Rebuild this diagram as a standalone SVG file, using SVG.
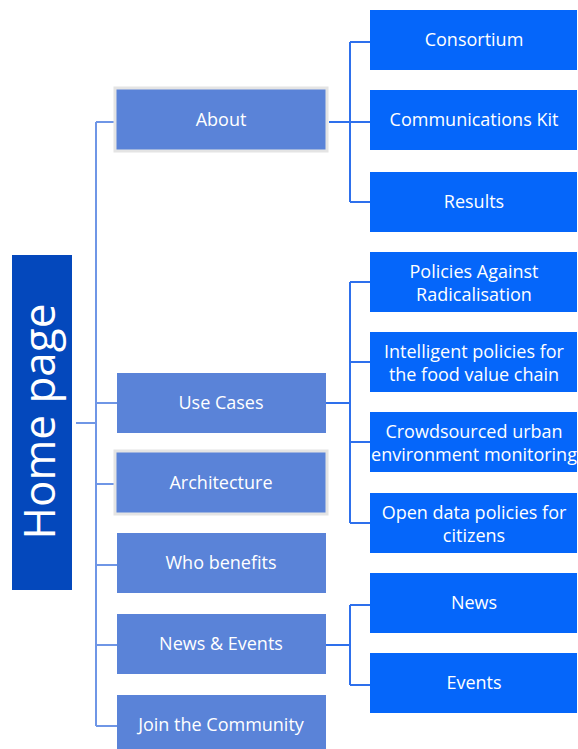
<svg xmlns="http://www.w3.org/2000/svg" width="578" height="749" viewBox="0 0 578 749">
<style>
.home{fill:#0448BC}
.sec{fill:#5A83D8}
.sel{stroke:#E4E4E4;stroke-width:3}
.sub{fill:#0566FA}
.t{font-family:"Open Sans","Noto Sans",sans-serif;font-size:18px;fill:#FFFFFF;text-anchor:middle}
.big{font-family:"Open Sans","Noto Sans",sans-serif;font-size:44px;fill:#FFFFFF;text-anchor:middle}
.c1{stroke:#6F96E6;stroke-width:2;fill:none}
.c2{stroke:#2E70EC;stroke-width:2;fill:none}
</style>
<rect width="578" height="749" fill="#FFFFFF"/>
<g id="connectors">
<path class="c1" d="M76 423H96M96 122V726M96 122H114M96 403H117M96 484H114M96 565H117M96 645H117M96 726H117"/>
<path class="c2" d="M329 122H350M350 42V202M350 42H370M350 202H370M350 122H370"/>
<path class="c2" d="M326 403H350M350 282V523M350 282H370M350 362H370M350 442H370M350 523H370"/>
<path class="c2" d="M326 645H350M350 605V685M350 605H370M350 685H370"/>
</g>
<g id="home">
<rect class="home" x="12" y="255" width="60" height="335"/>
<text class="big" transform="translate(55,421.5) rotate(-90)">Home page</text>
</g>
<g id="about">
<rect class="sec sel" x="115" y="88" width="212" height="63"/>
<text class="t" x="221" y="126">About</text>
</g>
<g id="use-cases">
<rect class="sec" x="117" y="373" width="209" height="60"/>
<text class="t" x="221" y="409">Use Cases</text>
</g>
<g id="architecture">
<rect class="sec sel" x="115" y="451" width="212" height="63"/>
<text class="t" x="221" y="489">Architecture</text>
</g>
<g id="who-benefits">
<rect class="sec" x="117" y="533" width="209" height="60"/>
<text class="t" x="221" y="569">Who benefits</text>
</g>
<g id="news-events">
<rect class="sec" x="117" y="614" width="209" height="60"/>
<text class="t" x="221" y="650">News &amp; Events</text>
</g>
<g id="join">
<rect class="sec" x="117" y="695" width="209" height="60"/>
<text class="t" x="221" y="731">Join the Community</text>
</g>
<g id="consortium">
<rect class="sub" x="370" y="10" width="207" height="60"/>
<text class="t" x="474" y="46">Consortium</text>
</g>
<g id="communications-kit">
<rect class="sub" x="370" y="90" width="207" height="60"/>
<text class="t" x="474" y="126">Communications Kit</text>
</g>
<g id="results">
<rect class="sub" x="370" y="172" width="207" height="60"/>
<text class="t" x="474" y="208">Results</text>
</g>
<g id="policies-radicalisation">
<rect class="sub" x="370" y="252" width="207" height="60"/>
<text class="t" x="474" y="277.5">Policies Against</text>
<text class="t" x="474" y="301">Radicalisation</text>
</g>
<g id="intelligent-policies">
<rect class="sub" x="370" y="332" width="207" height="60"/>
<text class="t" x="474" y="357.5">Intelligent policies for</text>
<text class="t" x="474" y="381">the food value chain</text>
</g>
<g id="crowdsourced">
<rect class="sub" x="370" y="412" width="207" height="60"/>
<text class="t" x="474" y="437.5">Crowdsourced urban</text>
<text class="t" x="474" y="461">environment monitoring</text>
</g>
<g id="open-data">
<rect class="sub" x="370" y="493" width="207" height="60"/>
<text class="t" x="474" y="518.5">Open data policies for</text>
<text class="t" x="474" y="542">citizens</text>
</g>
<g id="news">
<rect class="sub" x="370" y="573" width="207" height="60"/>
<text class="t" x="474" y="609">News</text>
</g>
<g id="events">
<rect class="sub" x="370" y="653" width="207" height="60"/>
<text class="t" x="474" y="689">Events</text>
</g>
</svg>
